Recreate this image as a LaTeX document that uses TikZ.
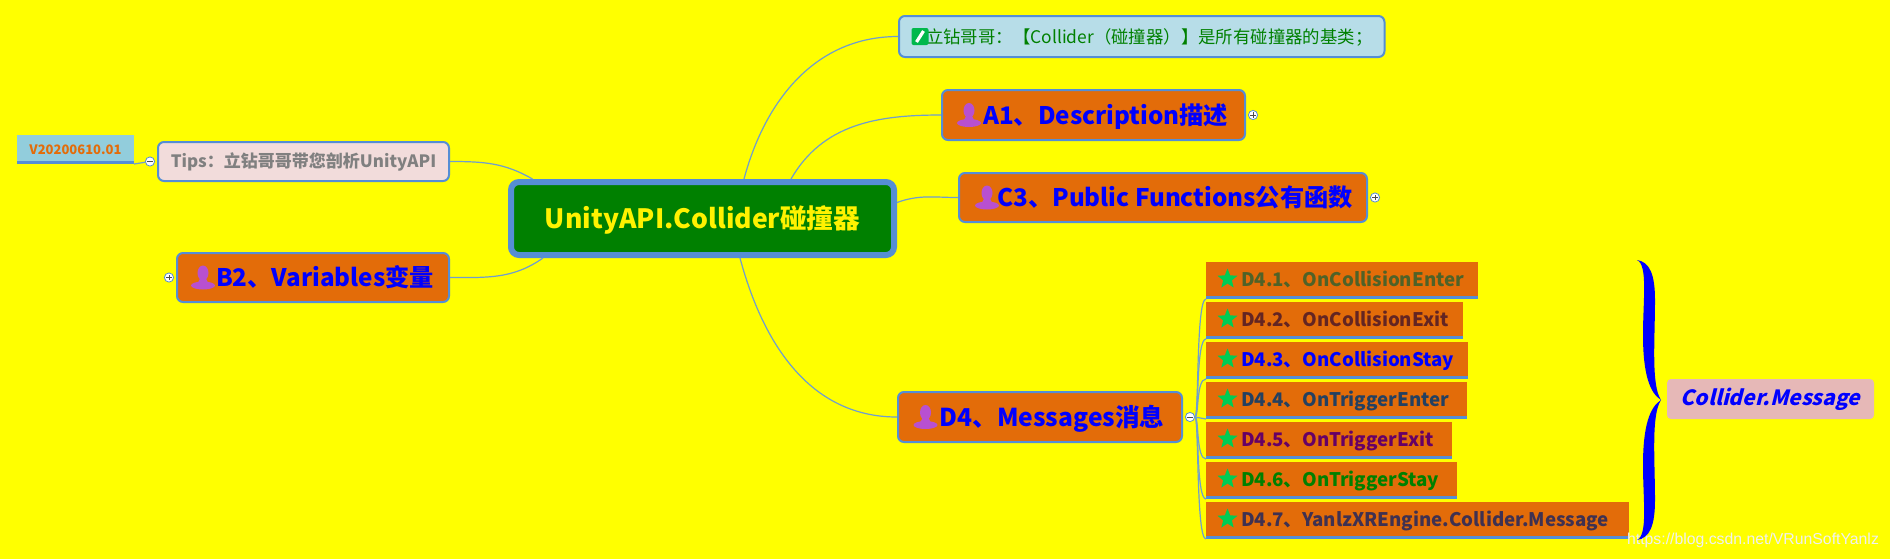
\documentclass[tikz,border=0pt]{standalone}
\usepackage{fontspec}
\setmainfont{Noto Sans CJK SC}
\newfontfamily\slantfont[FakeSlant=0.25]{Noto Sans CJK SC}
\newfontfamily\markfont{Liberation Sans}
\usetikzlibrary{positioning,shapes.geometric}
\definecolor{bgyellow}{RGB}{255,255,0}
\definecolor{rimblue}{RGB}{85,142,213}
\definecolor{linkblue}{RGB}{112,158,205}
\definecolor{rootgreen}{RGB}{0,128,0}
\definecolor{boxorange}{RGB}{227,108,9}
\definecolor{iconpurple}{RGB}{184,80,208}
\definecolor{stargreen}{RGB}{0,204,85}
\definecolor{notefill}{RGB}{183,221,232}
\definecolor{tipfill}{RGB}{242,220,219}
\definecolor{tagfill}{RGB}{146,205,220}
\definecolor{msgfill}{RGB}{230,184,183}
\definecolor{kidolive}{RGB}{79,98,40}
\definecolor{kidred}{RGB}{99,37,35}
\definecolor{kidnavy}{RGB}{36,64,97}
\definecolor{kidplum}{RGB}{102,0,102}
\definecolor{kidslate}{RGB}{63,49,81}
\begin{document}
\begin{tikzpicture}[x=0.5pt, y=-0.5pt,
    rootbox/.style = {draw=rimblue, fill=rootgreen, line width=3pt, rounded corners=4pt, minimum width=191.5pt, minimum height=36.5pt, text height=12pt, text depth=2pt, text=yellow, font=\fontsize{13.3}{16}\selectfont\bfseries},
    branch/.style = {draw=rimblue, fill=boxorange, line width=1pt, rounded corners=3pt, minimum width=136pt, minimum height=24.5pt, text height=11pt, text depth=2pt, text=blue, font=\fontsize{12.1}{14}\selectfont\bfseries, execute at begin node=\hspace*{12pt}},
    notebox/.style = {draw=rimblue, fill=notefill, line width=1pt, rounded corners=3pt, minimum width=242.75pt, minimum height=20.5pt, text height=8pt, text depth=1.5pt, text=rootgreen, font=\fontsize{8.7}{10}\selectfont, execute at begin node=\hspace*{7.5pt}},
    tipbox/.style = {draw=rimblue, fill=tipfill, line width=1pt, rounded corners=3pt, minimum width=145.5pt, minimum height=19.5pt, text=black!50, font=\fontsize{8.5}{10}\selectfont\bfseries},
    tagbox/.style = {fill=tagfill, minimum width=58.5pt, minimum height=14.5pt, inner sep=0pt, outer sep=0pt, text=boxorange, font=\fontsize{6.5}{8}\selectfont\bfseries, path picture={\fill[rimblue] (path picture bounding box.south west) rectangle ([yshift=1.5pt]path picture bounding box.south east);}},
    kid/.style = {fill=boxorange, inner xsep=0pt, inner ysep=0pt, outer sep=0pt, minimum height=18.5pt, text height=7.6pt, text depth=2pt, align=left, font=\fontsize{9.35}{11}\selectfont\bfseries, execute at begin node=\hspace*{17.5pt}, path picture={\fill[rimblue] (path picture bounding box.south west) rectangle ([yshift=1.5pt]path picture bounding box.south east);}},
    msgbox/.style = {fill=msgfill, rounded corners=2pt, minimum width=103.5pt, minimum height=20pt, inner sep=0pt, text=blue, font=\fontsize{10.5}{12}\selectfont\slantfont\bfseries},
    fold/.style = {draw=rimblue, fill=white, circle, line width=0.4pt, inner sep=0pt, minimum size=4.6pt},
    foldminus/.style = {fold, path picture={\draw[black!70, line width=0.35pt] ([xshift=-1.4pt]path picture bounding box.center) -- ([xshift=1.4pt]path picture bounding box.center);}},
    foldplus/.style = {fold, path picture={\draw[black!70, line width=0.35pt] ([xshift=-1.4pt]path picture bounding box.center) -- ([xshift=1.4pt]path picture bounding box.center) ([yshift=-1.4pt]path picture bounding box.center) -- ([yshift=1.4pt]path picture bounding box.center);}},
    link/.style = {draw=linkblue, line width=0.6pt},
    usericon/.pic = {\fill[iconpurple] (0,-4.5) ellipse [x radius=5.5, y radius=7.5] (0,8) ellipse [x radius=12, y radius=4] (-2.5,0) -- (2.5,0) -- (5,5) -- (-5,5) -- cycle;},
    staricon/.pic = {\node[star, star points=5, star point ratio=2.3, fill=stargreen, inner sep=0pt, minimum size=10.5pt] {};},
    noteicon/.pic = {\fill[stargreen!90!black, rounded corners=1pt] (-8.5,-8.5) rectangle (8.5,8.5); \draw[white, line width=1.6pt] (-3.5,5.5) -- (3.5,-5.5);}]
    \path[use as bounding box, fill=bgyellow] (0,0) rectangle (1890,559);
    \node[rootbox] (root) at (702.5,218.5) {UnityAPI.Collider碰撞器};
    \node[notebox] (note) at (1141.75,36.5) {立钻哥哥：【Collider（碰撞器）】是所有碰撞器的基类；};
    \node[branch, minimum width=151.5pt, minimum height=25pt] (a1) at (1093.5,115) {A1、Description描述};
    \node[branch, minimum width=204pt] (c3) at (1163,197.5) {C3、Public Functions公有函数};
    \node[branch, minimum width=142pt, minimum height=25pt, font=\fontsize{12.3}{14}\selectfont\bfseries] (d4) at (1040,417) {D4、Messages消息};
    \node[branch] (b2) at (313,277.5) {B2、Variables变量};
    \node[tipbox] (tips) at (303.5,161.5) {Tips：立钻哥哥带您剖析UnityAPI};
    \node[tagbox] (tag) at (75.5,149.5) {V20200610.01};
    \node[foldplus, right=1pt of a1] (a1fold) {};
    \node[foldplus, right=1pt of c3] (c3fold) {};
    \node[foldplus, left=1pt of b2] (b2fold) {};
    \node[foldminus, right=1pt of d4] (d4fold) {};
    \node[foldminus, left=1pt of tips] (tipsfold) {};
    \node[kid, text width=136pt, text=kidolive, anchor=north west] (d41) at (1206,262) {D4.1、OnCollisionEnter};
    \node[kid, text width=128.5pt, text=kidred, below=1.5pt of d41.south west, anchor=north west] (d42) {D4.2、OnCollisionExit};
    \node[kid, text width=131pt, text=blue, below=1.5pt of d42.south west, anchor=north west] (d43) {D4.3、OnCollisionStay};
    \node[kid, text width=130.5pt, text=kidnavy, below=1.5pt of d43.south west, anchor=north west] (d44) {D4.4、OnTriggerEnter};
    \node[kid, text width=123pt, text=kidplum, below=1.5pt of d44.south west, anchor=north west] (d45) {D4.5、OnTriggerExit};
    \node[kid, text width=125.5pt, text=rootgreen, below=1.5pt of d45.south west, anchor=north west] (d46) {D4.6、OnTriggerStay};
    \node[kid, text width=211.5pt, text=kidslate, below=1.5pt of d46.south west, anchor=north west] (d47) {D4.7、YanlzXREngine.Collider.Message};
    \node[msgbox] (msg) at (1770.5,399) {Collider.Message};
    \node[text=white!88!gray, font=\fontsize{7.9}{10}\selectfont\markfont, inner sep=0pt] (mark) at (1753,540) {https://blog.csdn.net/VRunSoftYanlz};
    \pic at ([xshift=14pt]a1.west) {usericon};
    \pic at ([xshift=14.5pt]c3.west) {usericon};
    \pic at ([xshift=14.25pt]d4.west) {usericon};
    \pic at ([xshift=13.5pt]b2.west) {usericon};
    \pic at ([xshift=11pt]note.west) {noteicon};
    \pic at ([xshift=10.75pt,yshift=.75pt]d41.west) {staricon};
    \pic at ([xshift=10.75pt,yshift=.75pt]d42.west) {staricon};
    \pic at ([xshift=10.75pt,yshift=.75pt]d43.west) {staricon};
    \pic at ([xshift=10.75pt,yshift=.75pt]d44.west) {staricon};
    \pic at ([xshift=10.75pt,yshift=.75pt]d45.west) {staricon};
    \pic at ([xshift=10.75pt,yshift=.75pt]d46.west) {staricon};
    \pic at ([xshift=10.75pt,yshift=.75pt]d47.west) {staricon};
    \draw[link] ([xshift=20.75pt]root.north) to[out=75, in=180] (note.west);
    \draw[link] ([xshift=44.25pt]root.north) to[out=60, in=180] (a1.west);
    \draw[link] ([yshift=8pt]root.east) to[out=20, in=180] (c3.west);
    \draw[link] ([xshift=18.75pt]root.south) to[out=-75, in=180] (d4.west);
    \draw[link] (tips.east) to[out=0, in=150] ([xshift=-85pt]root.north);
    \draw[link] (b2.east) to[out=0, in=215] ([xshift=-79.75pt]root.south);
    \draw[link] (tipsfold) to (tag.south east);
    \draw[link] (d4fold.east) to[out=0, in=180, out distance=2pt, in distance=5pt] (d41.south west);
    \draw[link] (d4fold.east) to[out=0, in=180, out distance=2pt, in distance=5pt] (d42.south west);
    \draw[link] (d4fold.east) to[out=0, in=180, out distance=2pt, in distance=5pt] (d43.south west);
    \draw[link] (d4fold.east) to (d44.south west);
    \draw[link] (d4fold.east) to[out=0, in=180, out distance=2pt, in distance=5pt] (d45.south west);
    \draw[link] (d4fold.east) to[out=0, in=180, out distance=2pt, in distance=5pt] (d46.south west);
    \draw[link] (d4fold.east) to[out=0, in=180, out distance=2pt, in distance=5pt] (d47.south west);
    \fill[blue] (1637,260) .. controls (1650,262) and (1655,275) .. (1655,300) .. controls (1655,340) and (1651,385) .. (1661,400) .. controls (1651,415) and (1655,460) .. (1655,500) .. controls (1655,525) and (1650,538) .. (1637,540) .. controls (1648,535) and (1643,500) .. (1643,465) .. controls (1643,425) and (1650,407) .. (1661,400) .. controls (1650,393) and (1643,375) .. (1643,335) .. controls (1643,300) and (1648,265) .. (1637,260) -- cycle;
\end{tikzpicture}
\end{document}
